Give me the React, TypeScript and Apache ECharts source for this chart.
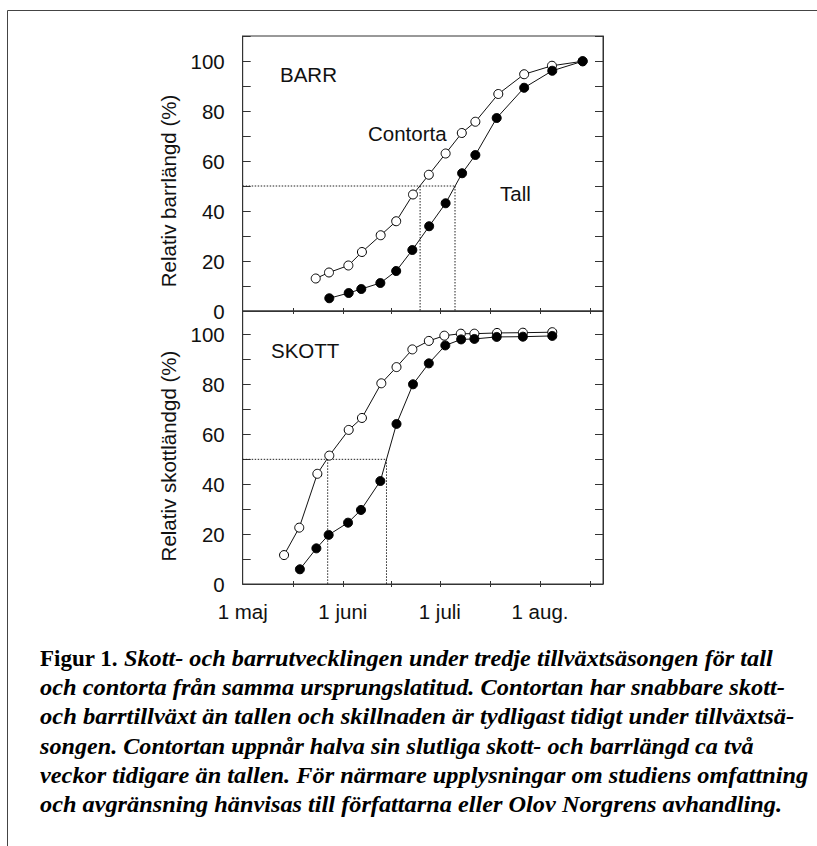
import React, { useEffect, useRef } from "react";
import * as echarts from "echarts";

// ---- Data (days after 1 May; values in % of final length) ----
const barrContortaDays = [22.6, 26.7, 32.7, 36.9, 42.7, 47.5, 52.7, 57.6, 62.8, 67.8, 72.0, 79.1, 87.1, 95.7, 105.2];
const barrContortaValues = [13.0, 15.4, 18.2, 23.6, 30.3, 35.9, 46.6, 54.5, 63.0, 71.2, 75.7, 86.8, 94.7, 98.1, 99.9];
const barrTallDays = [26.8, 32.8, 36.7, 42.6, 47.5, 52.5, 57.7, 62.8, 67.9, 72.0, 78.6, 87.1, 95.8, 105.2];
const barrTallValues = [5.1, 7.2, 8.8, 11.2, 16.0, 24.4, 33.9, 43.1, 55.1, 62.4, 77.2, 89.3, 96.1, 99.9];

const skottContortaDays = [12.8, 17.5, 23.1, 26.8, 32.8, 36.9, 42.9, 47.6, 52.5, 57.6, 62.4, 67.5, 71.7, 78.7, 86.7, 95.8];
const skottContortaValues = [11.6, 22.6, 44.2, 51.5, 61.8, 66.6, 80.5, 87.0, 94.1, 97.5, 99.6, 100.4, 100.4, 100.7, 100.8, 101.0];
const skottTallDays = [17.7, 22.8, 26.6, 32.6, 36.6, 42.6, 47.6, 52.7, 57.6, 62.7, 67.6, 71.7, 78.6, 86.7, 95.8];
const skottTallValues = [5.9, 14.3, 19.7, 24.6, 29.7, 41.3, 64.2, 80.1, 88.5, 95.7, 98.1, 98.3, 99.1, 99.2, 99.5];

// day at which half of final length is reached
const halfLevel = 50;
const barrHalfDays = [54.9, 65.7]; // contorta, tall
const skottHalfDays = [26.3, 44.5]; // contorta, tall

// axis ticks / labels
const xTickDays = [15.5, 31, 46, 61, 76.5, 92, 107.5];
const monthDays = [0, 31, 61, 92];
const monthLabels = ["1 maj", "1 juni", "1 juli", "1 aug."];
const xMax = 111.5;

const yLabelTitles = ["Relativ barrlängd (%)", "Relativ skottländgd (%)"];
const panelTitles = ["BARR", "SKOTT"];
const seriesNames = ["Contorta", "Tall"];

const captionHead = "Figur 1.";
const captionLines = [
  "Skott- och barrutvecklingen under tredje tillväxtsäsongen för tall",
  "och contorta från samma ursprungslatitud. Contortan har snabbare skott-",
  "och barrtillväxt än tallen och skillnaden är tydligast tidigt under tillväxtsä-",
  "songen. Contortan uppnår halva sin slutliga skott- och barrlängd ca två",
  "veckor tidigare än tallen. För närmare upplysningar om studiens omfattning",
  "och avgränsning hänvisas till författarna eller Olov Norgrens avhandling.",
];

const zip = (xs: number[], ys: number[]) => xs.map((x, i) => [x, ys[i]]);

const SANS = "'Liberation Sans', Arial, sans-serif";
const INK = "#111";
const AXIS = "#333";

export default function App() {
  const ref = useRef<HTMLDivElement>(null);
  useEffect(() => {
    if (!ref.current) return;
    const chart = echarts.init(ref.current, undefined, { renderer: "svg" });

    const canvas = document.createElement("canvas");
    const ctx = canvas.getContext("2d")!;
    const measure = (s: string, font: string) => {
      ctx.font = font;
      return ctx.measureText(s).width;
    };

    const capFontSize = 23;
    const italicFont = `italic bold ${capFontSize}px 'Liberation Serif'`;
    const boldFont = `bold ${capFontSize}px 'Liberation Serif'`;
    const capLeft = 40;
    const capRight = [773, 785, 795, 754, 809, 782];
    const capCenters = [658, 687, 716.5, 746, 775, 804];
    const headWidth = 78;
    const firstStart = 124;

    const caption: any[] = [];
    caption.push({
      type: "text",
      x: capLeft,
      y: capCenters[0],
      scaleX: headWidth / measure(captionHead, boldFont),
      style: {
        text: captionHead,
        font: boldFont,
        fill: "#000",
        align: "left",
        verticalAlign: "middle",
      },
    });
    captionLines.forEach((line, i) => {
      const start = i === 0 ? firstStart : capLeft;
      caption.push({
        type: "text",
        x: start,
        y: capCenters[i],
        scaleX: (capRight[i] - start) / measure(line, italicFont),
        style: {
          text: line,
          font: italicFont,
          fill: "#000",
          align: "left",
          verticalAlign: "middle",
        },
      });
    });

    const gridLeft = 242.7;
    const gridWidth = 360.3;
    const grids = [
      { left: gridLeft, top: 36, width: gridWidth, height: 275, show: true, borderColor: AXIS, borderWidth: 1, backgroundColor: "transparent" },
      { left: gridLeft, top: 311, width: gridWidth, height: 273, show: true, borderColor: AXIS, borderWidth: 1, backgroundColor: "transparent" },
    ];
    const yMax = [110, 109.5];

    const yAxes: any[] = [];
    const xAxes: any[] = [];
    [0, 1].forEach((g) => {
      ["left", "right"].forEach((pos) => {
        yAxes.push({
          gridIndex: g,
          type: "value",
          position: pos,
          min: 0,
          max: yMax[g],
          interval: 10,
          axisLine: { show: true, onZero: false, lineStyle: { color: AXIS, width: 1 } },
          axisTick: { show: true, inside: true, length: 8, lineStyle: { color: AXIS, width: 1 } },
          axisLabel: {
            show: pos === "left",
            margin: 18,
            fontSize: 20.5,
            fontFamily: SANS,
            color: INK,
            formatter: (v: number) => (v % 20 === 0 && v <= 100 ? String(v) : ""),
          },
          splitLine: { show: false },
        });
      });
      [true, false].forEach((inside) => {
        xAxes.push({
          gridIndex: g,
          type: "value",
          position: "bottom",
          min: 0,
          max: xMax,
          axisLine: { show: inside, onZero: false, lineStyle: { color: AXIS, width: 1 } },
          axisTick: {
            show: true,
            inside,
            length: 3,
            customValues: xTickDays,
            lineStyle: { color: AXIS, width: 1 },
          },
          axisLabel: {
            show: g === 1 && inside,
            customValues: monthDays,
            margin: 17,
            fontSize: 20.5,
            fontFamily: SANS,
            color: INK,
            formatter: (v: number) => {
              const i = monthDays.indexOf(v);
              return i >= 0 ? monthLabels[i] : "";
            },
          },
          splitLine: { show: false },
        });
      });
    });

    const dotted = (g: number, data: number[][]) => ({
      type: "line",
      xAxisIndex: g * 2,
      yAxisIndex: g * 2,
      data,
      symbol: "none",
      silent: true,
      lineStyle: { color: "#222", width: 1, type: [1.5, 1.5] },
      z: 1,
    });
    const curve = (g: number, name: string, data: number[][], filled: boolean) => ({
      type: "line",
      name,
      xAxisIndex: g * 2,
      yAxisIndex: g * 2,
      data,
      symbol: "circle",
      symbolSize: 9,
      showSymbol: true,
      lineStyle: { color: "#111", width: 1 },
      itemStyle: { color: filled ? "#000" : "#fff", borderColor: "#000", borderWidth: 1 },
      z: filled ? 4 : 3,
    });

    const halfSets = [barrHalfDays, skottHalfDays];
    const series: any[] = [];
    [0, 1].forEach((g) => {
      const h = halfSets[g];
      const far = Math.max(...h);
      series.push(dotted(g, [[0, halfLevel], [far, halfLevel]]));
      h.forEach((d) => series.push(dotted(g, [[d, halfLevel], [d, 0]])));
    });
    series.push(curve(0, seriesNames[0], zip(barrContortaDays, barrContortaValues), false));
    series.push(curve(0, seriesNames[1], zip(barrTallDays, barrTallValues), true));
    series.push(curve(1, seriesNames[0], zip(skottContortaDays, skottContortaValues), false));
    series.push(curve(1, seriesNames[1], zip(skottTallDays, skottTallValues), true));

    const label = (text: string, x: number, y: number) => ({
      type: "text",
      x,
      y,
      style: { text, font: `20.5px ${SANS}`, fill: INK, align: "left", verticalAlign: "middle" },
      z: 10,
    });

    chart.setOption({
      animation: false,
      backgroundColor: "#fff",
      textStyle: { fontFamily: SANS },
      grid: grids,
      xAxis: xAxes,
      yAxis: yAxes,
      series,
      graphic: [
        {
          type: "polyline",
          shape: { points: [[7.5, 846], [7.5, 10.5], [817, 10.5]] },
          style: { stroke: "#444", lineWidth: 1, fill: "none" },
        },
        label(panelTitles[0], 280, 74),
        label(seriesNames[0], 368, 133.5),
        label(seriesNames[1], 500, 193),
        label(panelTitles[1], 271, 350),
        {
          type: "text",
          x: 168,
          y: 191,
          rotation: Math.PI / 2,
          style: { text: yLabelTitles[0], font: `20.5px ${SANS}`, fill: INK, align: "center", verticalAlign: "middle" },
        },
        {
          type: "text",
          x: 168,
          y: 456,
          rotation: Math.PI / 2,
          style: { text: yLabelTitles[1], font: `20.5px ${SANS}`, fill: INK, align: "center", verticalAlign: "middle" },
        },
        ...caption,
      ],
    });
    return () => chart.dispose();
  }, []);

  return (
    <div
      ref={ref}
      style={{ position: "fixed", left: 0, top: 0, width: 817, height: 846, background: "#fff" }}
    />
  );
}
